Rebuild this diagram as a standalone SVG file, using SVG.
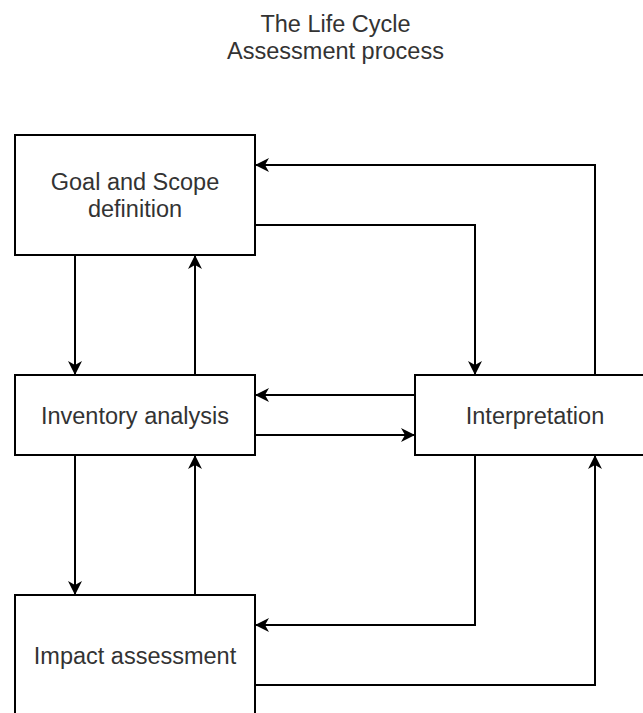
<svg xmlns="http://www.w3.org/2000/svg" width="643" height="713" viewBox="0 0 643 713">
  <style>
    .box { fill: #ffffff; stroke: #000000; stroke-width: 2; }
    .lbl { font-family: "Liberation Sans", Arial, Helvetica, sans-serif; font-size: 23.5px; fill: #333333; text-anchor: middle; }
    .edge { fill: none; stroke: #000000; stroke-width: 2; marker-end: url(#arrow); }
  </style>
  <defs>
    <marker id="arrow" markerUnits="userSpaceOnUse" markerWidth="16" markerHeight="16" refX="14" refY="7" orient="auto">
      <path d="M0,0 L14,7 L0,14 L4,7 Z" fill="#000000"/>
    </marker>
  </defs>
  <rect width="643" height="713" fill="#ffffff"/>

  <g id="title">
    <text class="lbl" x="335.5" y="31.5">The Life Cycle</text>
    <text class="lbl" x="335.5" y="58.5">Assessment process</text>
  </g>

  <g id="connectors">
    <path class="edge" d="M75,255 L75,375"/>
    <path class="edge" d="M195,375 L195,255"/>
    <path class="edge" d="M595,375 L595,165 L255,165"/>
    <path class="edge" d="M255,225 L475,225 L475,375"/>
    <path class="edge" d="M415,395 L255,395"/>
    <path class="edge" d="M255,435 L415,435"/>
    <path class="edge" d="M75,455 L75,595"/>
    <path class="edge" d="M195,595 L195,455"/>
    <path class="edge" d="M475,455 L475,625 L255,625"/>
    <path class="edge" d="M255,685 L595,685 L595,455"/>
  </g>

  <g id="goal">
    <rect class="box" x="15" y="135" width="240" height="120"/>
    <text class="lbl" x="135" y="189.5">Goal and Scope</text>
    <text class="lbl" x="135" y="216.5">definition</text>
  </g>

  <g id="inventory">
    <rect class="box" x="15" y="375" width="240" height="80"/>
    <text class="lbl" x="135" y="424">Inventory analysis</text>
  </g>

  <g id="interpretation">
    <rect class="box" x="415" y="375" width="240" height="80"/>
    <text class="lbl" x="535" y="424">Interpretation</text>
  </g>

  <g id="impact">
    <rect class="box" x="15" y="595" width="240" height="120"/>
    <text class="lbl" x="135" y="664">Impact assessment</text>
  </g>
</svg>
